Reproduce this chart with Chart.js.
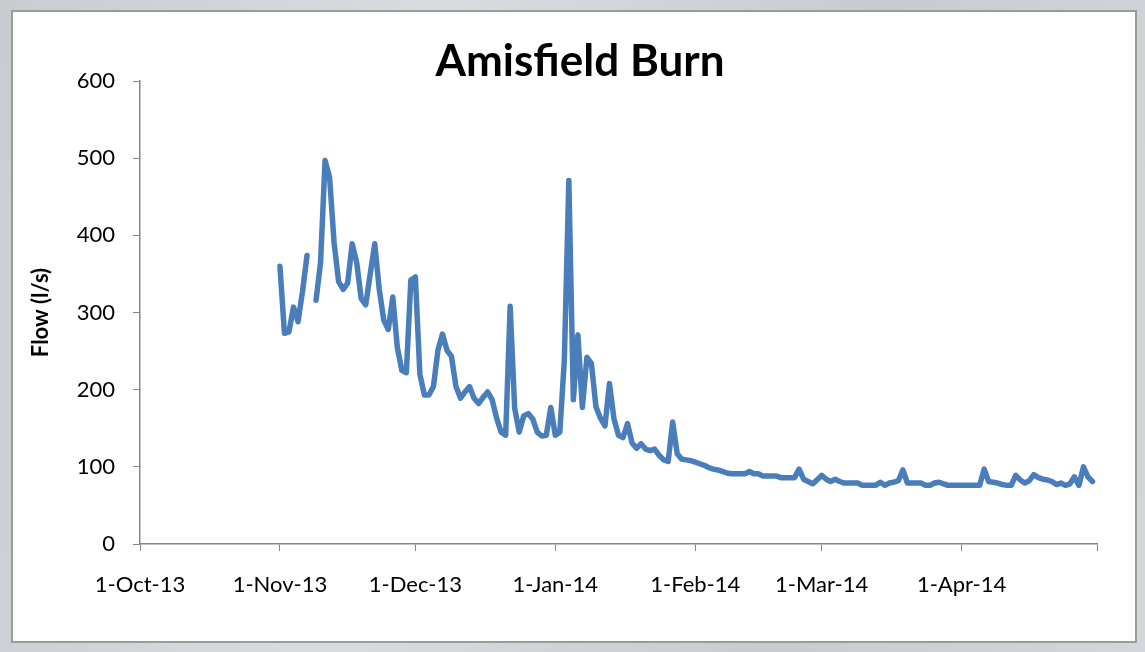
<!DOCTYPE html>
<html>
<head>
<meta charset="utf-8">
<title>Amisfield Burn</title>
<script src="https://cdn.jsdelivr.net/npm/chart.js@4.4.0/dist/chart.umd.min.js"></script>
<style>
  html, body { margin: 0; padding: 0; }
  body { width: 1145px; height: 652px; position: relative; overflow: hidden;
         background: linear-gradient(100deg, #c9cdd2 0%, #d9dcdf 35%, #c8ccd1 70%, #d3d6da 100%); }
  #frame { position: absolute; left: 11px; top: 10px; width: 1122px; height: 629px;
           background: #fff; border: 2px solid #9b9b9b; }
  #flowChart { position: absolute; left: 0; top: 0; }
</style>
</head>
<body>
<div id="frame"></div>
<canvas id="flowChart" width="1145" height="652"></canvas>
<script>
// Daily flow (l/s) by month, starting 1 Nov 2013. null = no reading that day.
const flowNov13 = [360, 273, 275, 307, 288, 327, 374, null, 316, 365, 497, 475, 390, 340, 330, 338, 389, 365, 318, 310, 350, 389, 330, 290, 278, 320, 255, 225, 222, 342];
const flowDec13 = [346, 220, 193, 193, 204, 251, 272, 251, 243, 204, 189, 197, 204, 189, 182, 190, 197, 187, 163, 145, 141, 308, 176, 145, 166, 169, 162, 145, 140, 141, 177];
const flowJan14 = [141, 145, 238, 471, 187, 271, 177, 242, 234, 178, 163, 153, 208, 162, 141, 138, 156, 131, 124, 130, 123, 121, 123, 115, 109, 107, 158, 117, 110, 109, 108];
const flowFeb14 = [106, 104, 102, 99, 97, 96, 94, 92, 91, 91, 91, 91, 94, 91, 91, 88, 88, 88, 88, 86, 86, 86, 86, 97, 84, 81, 78, 83];
const flowMar14 = [89, 84, 81, 84, 81, 79, 79, 79, 79, 76, 76, 76, 76, 80, 76, 79, 80, 82, 96, 79, 79, 79, 79, 76, 76, 79, 80, 78, 76, 76, 76];
const flowApr14 = [76, 76, 76, 76, 76, 97, 81, 80, 79, 77, 76, 76, 89, 83, 79, 82, 90, 86, 84, 83, 81, 77, 79, 76, 78, 87, 76, 100, 87, 81];

const firstDate = '2013-11-01';
const axisStart = '2013-10-01';

// Month ticks on the date axis
const tickDates = ['2013-10-01', '2013-11-01', '2013-12-01', '2014-01-01', '2014-02-01', '2014-03-01', '2014-04-01', '2014-05-01'];
const tickLabels = ['1-Oct-13', '1-Nov-13', '1-Dec-13', '1-Jan-14', '1-Feb-14', '1-Mar-14', '1-Apr-14', ''];
const yTicks = [0, 100, 200, 300, 400, 500, 600];

const DAY = 86400000;
const dayIndex = d => Math.round((Date.parse(d) - Date.parse(axisStart)) / DAY);

const flow = [...flowNov13, ...flowDec13, ...flowJan14, ...flowFeb14, ...flowMar14, ...flowApr14];
const start = dayIndex(firstDate);
const points = flow.map((v, i) => ({ x: start + i, y: v }));
const tickDays = tickDates.map(dayIndex);

const axisGrey = '#868686';
const font = 'Lato, "Open Sans", sans-serif';

// Chart heading, drawn over the plot area
const headingPlugin = {
    id: 'heading',
    afterDraw(chart) {
        const ctx = chart.ctx;
        ctx.save();
        ctx.font = 'bold 44px ' + font;
        ctx.fillStyle = '#000';
        ctx.textAlign = 'center';
        ctx.textBaseline = 'alphabetic';
        ctx.fillText('Amisfield Burn', 580, 76);
        ctx.restore();
    }
};

new Chart(document.getElementById('flowChart'), {
    type: 'line',
    data: {
        datasets: [{
            label: 'Flow (l/s)',
            data: points,
            borderColor: '#4a7ebb',
            borderWidth: 5.5,
            borderJoinStyle: 'round',
            borderCapStyle: 'round',
            pointRadius: 0,
            tension: 0,
            spanGaps: false,
            fill: false
        }]
    },
    options: {
        responsive: false,
        animation: false,
        layout: { padding: { left: 0, top: 81, right: 48, bottom: 48 } },
        plugins: {
            legend: { display: false },
            tooltip: { enabled: false },
            title: { display: false }
        },
        scales: {
            x: {
                type: 'linear',
                min: tickDays[0],
                max: tickDays[tickDays.length - 1],
                afterBuildTicks: scale => { scale.ticks = tickDays.map(v => ({ value: v })); },
                afterFit: scale => { scale.height = 60; },
                ticks: {
                    autoSkip: false,
                    maxRotation: 0,
                    padding: 21,
                    color: '#000',
                    font: { family: font, size: 22 },
                    callback: (value, i) => tickLabels[i]
                },
                grid: { display: true, drawOnChartArea: false, drawTicks: true, tickLength: 7, color: axisGrey },
                border: { display: true, color: axisGrey, width: 1.5 }
            },
            y: {
                min: 0,
                max: 600,
                afterBuildTicks: scale => { scale.ticks = yTicks.map(v => ({ value: v })); },
                afterFit: scale => { scale.width = 140; },
                ticks: {
                    padding: 18,
                    color: '#000',
                    font: { family: font, size: 22 }
                },
                grid: { display: true, drawOnChartArea: false, drawTicks: true, tickLength: 7, color: axisGrey },
                border: { display: true, color: axisGrey, width: 1.5 },
                title: {
                    display: true,
                    text: 'Flow (l/s)',
                    color: '#000',
                    font: { family: font, size: 22, weight: 'bold' },
                    padding: { top: 28, bottom: 0 }
                }
            }
        }
    },
    plugins: [headingPlugin]
});
</script>
</body>
</html>
